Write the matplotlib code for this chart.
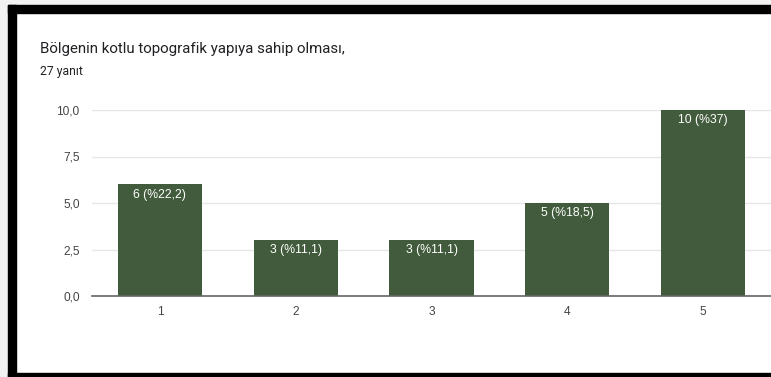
import matplotlib
matplotlib.use("Agg")
import matplotlib.pyplot as plt
from matplotlib.patches import Rectangle

categories = ["1", "2", "3", "4", "5"]
counts = [6, 3, 3, 5, 10]
labels = ["6 (%22,2)", "3 (%11,1)", "3 (%11,1)", "5 (%18,5)", "10 (%37)"]
yticks = [0, 2.5, 5, 7.5, 10]
ytick_labels = ["0,0", "2,5", "5,0", "7,5", "10,0"]
title = "Bölgenin kotlu topografik yapıya sahip olması,"
subtitle = "27 yanıt"

W, H = 771, 377
fig = plt.figure(figsize=(W / 100, H / 100), dpi=100)
fig.patch.set_facecolor("white")

def px(x, y, w, h, color):
    fig.patches.append(Rectangle((x / W, 1 - (y + h) / H), w / W, h / H,
                                 transform=fig.transFigure, color=color, zorder=0))

# outer margin and black frame
px(0, 0, W, 5, "#f2f2f2")
px(0, 0, 8, H, "#f2f2f2")
px(8, 5, W - 8, 8, "black")
px(8, 5, 8, H - 5, "black")
px(8, 373, W - 8, 4, "black")

ax = fig.add_axes([92 / W, 1 - 296 / H, (W - 92) / W, (296 - 110) / H])
x = list(range(1, len(categories) + 1))
bars = ax.bar(x, counts, width=0.62, color="#425b3c", zorder=3)
for xi, c, lab in zip(x, counts, labels):
    ax.annotate(lab, (xi, c), xytext=(0, -3), textcoords="offset points",
                ha="center", va="top", color="white", fontsize=8.8,
                family="Liberation Sans", zorder=4)

ax.set_xlim(0.5, 5.5)
ax.set_ylim(0, 10)
ax.set_xticks(x)
ax.set_xticklabels(categories)
ax.set_yticks(yticks)
ax.set_yticklabels(ytick_labels)
for lbl in ax.get_xticklabels() + ax.get_yticklabels():
    lbl.set_family("Liberation Sans")
    lbl.set_fontsize(8.6)
    lbl.set_color("#444444")
ax.tick_params(axis="both", length=0)
ax.tick_params(axis="y", pad=9)
ax.tick_params(axis="x", pad=7)
ax.grid(axis="y", color="#e6e6e6", linewidth=1, zorder=0)
for s in ["top", "right", "left"]:
    ax.spines[s].set_visible(False)
ax.spines["bottom"].set_color("#666666")
ax.spines["bottom"].set_linewidth(1.2)
ax.spines["bottom"].set_zorder(5)

fig.text(40 / W, 1 - 49 / H, title, fontsize=10.8, family="Roboto",
         color="#202124", va="center", ha="left")
fig.text(40 / W, 1 - 71 / H, subtitle, fontsize=8.7, family="Roboto",
         color="#202124", va="center", ha="left")

fig.savefig("out.png", dpi=100)
